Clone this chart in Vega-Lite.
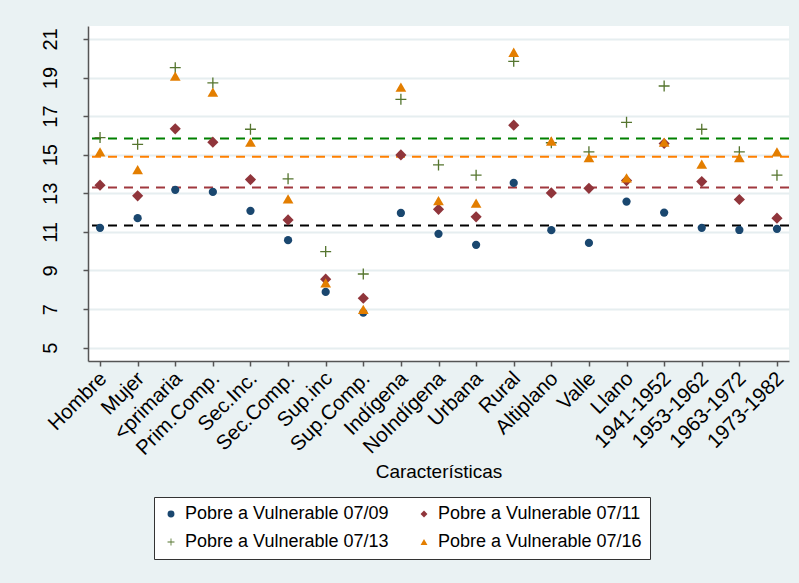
{
  "$schema": "https://vega.github.io/schema/vega-lite/v6.json",
  "width": 701,
  "height": 335,
  "autosize": {"type": "none"},
  "padding": {"left": 88, "top": 26, "right": 10, "bottom": 222},
  "background": "#eaf2f3",
  "config": {
    "view": {"fill": "white", "stroke": null},
    "font": "Liberation Sans",
    "axis": {
      "domainColor": "#555555",
      "domainWidth": 1.5,
      "tickColor": "#555555",
      "tickWidth": 1.5,
      "tickSize": 5,
      "labelColor": "#000000",
      "titleColor": "#000000",
      "labelFontSize": 19,
      "titleFontSize": 19,
      "titleFontWeight": "normal"
    }
  },
  "datasets": {
    "medias": [
      {"serie": "07/09", "valor": 11.33},
      {"serie": "07/11", "valor": 13.30},
      {"serie": "07/13", "valor": 15.84},
      {"serie": "07/16", "valor": 14.89}
    ],
    "puntos": [
      {"cat": "Hombre", "serie": "Pobre a Vulnerable 07/09", "valor": 11.21},
      {"cat": "Mujer", "serie": "Pobre a Vulnerable 07/09", "valor": 11.71},
      {"cat": "<primaria", "serie": "Pobre a Vulnerable 07/09", "valor": 13.18},
      {"cat": "Prim.Comp.", "serie": "Pobre a Vulnerable 07/09", "valor": 13.07},
      {"cat": "Sec.Inc.", "serie": "Pobre a Vulnerable 07/09", "valor": 12.09},
      {"cat": "Sec.Comp.", "serie": "Pobre a Vulnerable 07/09", "valor": 10.57},
      {"cat": "Sup.inc", "serie": "Pobre a Vulnerable 07/09", "valor": 7.89},
      {"cat": "Sup.Comp.", "serie": "Pobre a Vulnerable 07/09", "valor": 6.82},
      {"cat": "Indígena", "serie": "Pobre a Vulnerable 07/09", "valor": 11.98},
      {"cat": "NoIndígena", "serie": "Pobre a Vulnerable 07/09", "valor": 10.90},
      {"cat": "Urbana", "serie": "Pobre a Vulnerable 07/09", "valor": 10.33},
      {"cat": "Rural", "serie": "Pobre a Vulnerable 07/09", "valor": 13.54},
      {"cat": "Altiplano", "serie": "Pobre a Vulnerable 07/09", "valor": 11.09},
      {"cat": "Valle", "serie": "Pobre a Vulnerable 07/09", "valor": 10.43},
      {"cat": "Llano", "serie": "Pobre a Vulnerable 07/09", "valor": 12.57},
      {"cat": "1941-1952", "serie": "Pobre a Vulnerable 07/09", "valor": 12.00},
      {"cat": "1953-1962", "serie": "Pobre a Vulnerable 07/09", "valor": 11.21},
      {"cat": "1963-1972", "serie": "Pobre a Vulnerable 07/09", "valor": 11.10},
      {"cat": "1973-1982", "serie": "Pobre a Vulnerable 07/09", "valor": 11.16},

      {"cat": "Hombre", "serie": "Pobre a Vulnerable 07/11", "valor": 13.42},
      {"cat": "Mujer", "serie": "Pobre a Vulnerable 07/11", "valor": 12.87},
      {"cat": "<primaria", "serie": "Pobre a Vulnerable 07/11", "valor": 16.34},
      {"cat": "Prim.Comp.", "serie": "Pobre a Vulnerable 07/11", "valor": 15.65},
      {"cat": "Sec.Inc.", "serie": "Pobre a Vulnerable 07/11", "valor": 13.71},
      {"cat": "Sec.Comp.", "serie": "Pobre a Vulnerable 07/11", "valor": 11.62},
      {"cat": "Sup.inc", "serie": "Pobre a Vulnerable 07/11", "valor": 8.55},
      {"cat": "Sup.Comp.", "serie": "Pobre a Vulnerable 07/11", "valor": 7.56},
      {"cat": "Indígena", "serie": "Pobre a Vulnerable 07/11", "valor": 14.99},
      {"cat": "NoIndígena", "serie": "Pobre a Vulnerable 07/11", "valor": 12.17},
      {"cat": "Urbana", "serie": "Pobre a Vulnerable 07/11", "valor": 11.78},
      {"cat": "Rural", "serie": "Pobre a Vulnerable 07/11", "valor": 16.53},
      {"cat": "Altiplano", "serie": "Pobre a Vulnerable 07/11", "valor": 13.02},
      {"cat": "Valle", "serie": "Pobre a Vulnerable 07/11", "valor": 13.26},
      {"cat": "Llano", "serie": "Pobre a Vulnerable 07/11", "valor": 13.66},
      {"cat": "1941-1952", "serie": "Pobre a Vulnerable 07/11", "valor": 15.58},
      {"cat": "1953-1962", "serie": "Pobre a Vulnerable 07/11", "valor": 13.61},
      {"cat": "1963-1972", "serie": "Pobre a Vulnerable 07/11", "valor": 12.68},
      {"cat": "1973-1982", "serie": "Pobre a Vulnerable 07/11", "valor": 11.71},

      {"cat": "Hombre", "serie": "Pobre a Vulnerable 07/13", "valor": 15.89},
      {"cat": "Mujer", "serie": "Pobre a Vulnerable 07/13", "valor": 15.54},
      {"cat": "<primaria", "serie": "Pobre a Vulnerable 07/13", "valor": 19.51},
      {"cat": "Prim.Comp.", "serie": "Pobre a Vulnerable 07/13", "valor": 18.72},
      {"cat": "Sec.Inc.", "serie": "Pobre a Vulnerable 07/13", "valor": 16.32},
      {"cat": "Sec.Comp.", "serie": "Pobre a Vulnerable 07/13", "valor": 13.75},
      {"cat": "Sup.inc", "serie": "Pobre a Vulnerable 07/13", "valor": 9.98},
      {"cat": "Sup.Comp.", "serie": "Pobre a Vulnerable 07/13", "valor": 8.82},
      {"cat": "Indígena", "serie": "Pobre a Vulnerable 07/13", "valor": 17.87},
      {"cat": "NoIndígena", "serie": "Pobre a Vulnerable 07/13", "valor": 14.47},
      {"cat": "Urbana", "serie": "Pobre a Vulnerable 07/13", "valor": 13.94},
      {"cat": "Rural", "serie": "Pobre a Vulnerable 07/13", "valor": 19.84},
      {"cat": "Altiplano", "serie": "Pobre a Vulnerable 07/13", "valor": 15.62},
      {"cat": "Valle", "serie": "Pobre a Vulnerable 07/13", "valor": 15.15},
      {"cat": "Llano", "serie": "Pobre a Vulnerable 07/13", "valor": 16.68},
      {"cat": "1941-1952", "serie": "Pobre a Vulnerable 07/13", "valor": 18.56},
      {"cat": "1953-1962", "serie": "Pobre a Vulnerable 07/13", "valor": 16.32},
      {"cat": "1963-1972", "serie": "Pobre a Vulnerable 07/13", "valor": 15.15},
      {"cat": "1973-1982", "serie": "Pobre a Vulnerable 07/13", "valor": 13.94},

      {"cat": "Hombre", "serie": "Pobre a Vulnerable 07/16", "valor": 15.15},
      {"cat": "Mujer", "serie": "Pobre a Vulnerable 07/16", "valor": 14.23},
      {"cat": "<primaria", "serie": "Pobre a Vulnerable 07/16", "valor": 19.07},
      {"cat": "Prim.Comp.", "serie": "Pobre a Vulnerable 07/16", "valor": 18.24},
      {"cat": "Sec.Inc.", "serie": "Pobre a Vulnerable 07/16", "valor": 15.65},
      {"cat": "Sec.Comp.", "serie": "Pobre a Vulnerable 07/16", "valor": 12.71},
      {"cat": "Sup.inc", "serie": "Pobre a Vulnerable 07/16", "valor": 8.36},
      {"cat": "Sup.Comp.", "serie": "Pobre a Vulnerable 07/16", "valor": 6.99},
      {"cat": "Indígena", "serie": "Pobre a Vulnerable 07/16", "valor": 18.50},
      {"cat": "NoIndígena", "serie": "Pobre a Vulnerable 07/16", "valor": 12.62},
      {"cat": "Urbana", "serie": "Pobre a Vulnerable 07/16", "valor": 12.49},
      {"cat": "Rural", "serie": "Pobre a Vulnerable 07/16", "valor": 20.31},
      {"cat": "Altiplano", "serie": "Pobre a Vulnerable 07/16", "valor": 15.71},
      {"cat": "Valle", "serie": "Pobre a Vulnerable 07/16", "valor": 14.85},
      {"cat": "Llano", "serie": "Pobre a Vulnerable 07/16", "valor": 13.80},
      {"cat": "1941-1952", "serie": "Pobre a Vulnerable 07/16", "valor": 15.65},
      {"cat": "1953-1962", "serie": "Pobre a Vulnerable 07/16", "valor": 14.51},
      {"cat": "1963-1972", "serie": "Pobre a Vulnerable 07/16", "valor": 14.85},
      {"cat": "1973-1982", "serie": "Pobre a Vulnerable 07/16", "valor": 15.15}
    ]
  },
  "encoding": {
    "y": {
      "field": "valor", "type": "quantitative",
      "scale": {"domain": [4.31, 21.67], "nice": false, "zero": false},
      "axis": {"title": null, "values": [5, 7, 9, 11, 13, 15, 17, 19, 21],
               "grid": true, "gridColor": "#e6eef0", "gridWidth": 2, "labelFontSize": 20,
               "labelAngle": 270, "labelAlign": "center", "labelBaseline": "bottom", "labelPadding": 23}
    }
  },
  "layer": [
    {
      "data": {"name": "medias"},
      "transform": [{"filter": "datum.serie == '07/09'"}],
      "mark": {"type": "rule", "strokeDash": [9, 7], "strokeWidth": 2, "color": "#000000"},
      "encoding": {}
    },
    {
      "data": {"name": "medias"},
      "transform": [{"filter": "datum.serie == '07/11'"}],
      "mark": {"type": "rule", "strokeDash": [9, 7], "strokeWidth": 2, "color": "#a0383e"},
      "encoding": {}
    },
    {
      "data": {"name": "medias"},
      "transform": [{"filter": "datum.serie == '07/13'"}],
      "mark": {"type": "rule", "strokeDash": [9, 7], "strokeWidth": 2, "color": "#008000"},
      "encoding": {}
    },
    {
      "data": {"name": "medias"},
      "transform": [{"filter": "datum.serie == '07/16'"}],
      "mark": {"type": "rule", "strokeDash": [9, 7], "strokeWidth": 2, "color": "#ff8000"},
      "encoding": {}
    },
    {
      "data": {"name": "puntos"},
      "encoding": {
        "x": {
          "field": "cat", "type": "nominal",
          "sort": ["Hombre", "Mujer", "<primaria", "Prim.Comp.", "Sec.Inc.", "Sec.Comp.", "Sup.inc", "Sup.Comp.", "Indígena", "NoIndígena", "Urbana", "Rural", "Altiplano", "Valle", "Llano", "1941-1952", "1953-1962", "1963-1972", "1973-1982"],
          "scale": {"type": "point", "padding": 0.32},
          "axis": {"title": "Características", "labelAngle": -45, "labelFontSize": 20.5, "labelOffset": -4, "labelPadding": 2, "titlePadding": 3, "grid": false}
        },
        "color": {
          "field": "serie", "type": "nominal",
          "scale": {"domain": ["Pobre a Vulnerable 07/09", "Pobre a Vulnerable 07/11", "Pobre a Vulnerable 07/13", "Pobre a Vulnerable 07/16"],
                    "range": ["#1a476f", "#90353b", "#55752f", "#e37e00"]},
          "legend": {
            "title": null, "orient": "none", "legendX": 66, "legendY": 471,
            "direction": "horizontal", "columns": 2,
            "labelFontSize": 18, "labelColor": "#000000",
            "symbolSize": 48, "labelOffset": 5, "columnPadding": 26, "rowPadding": 10,
            "padding": 8, "strokeColor": "#333333", "fillColor": "#ffffff", "cornerRadius": 0,
            "labelLimit": 400
          }
        },
        "shape": {
          "field": "serie", "type": "nominal",
          "scale": {"domain": ["Pobre a Vulnerable 07/09", "Pobre a Vulnerable 07/11", "Pobre a Vulnerable 07/13", "Pobre a Vulnerable 07/16"],
                    "range": ["circle", "diamond", "M-1,-0.12H-0.12V-1H0.12V-0.12H1V0.12H0.12V1H-0.12V0.12H-1Z", "triangle-up"]},
          "legend": {
            "title": null, "orient": "none", "legendX": 66, "legendY": 471,
            "direction": "horizontal", "columns": 2,
            "labelFontSize": 18, "labelColor": "#000000",
            "symbolSize": 48, "labelOffset": 5, "columnPadding": 26, "rowPadding": 10,
            "padding": 8, "strokeColor": "#333333", "fillColor": "#ffffff", "cornerRadius": 0,
            "labelLimit": 400
          }
        }
      },
      "layer": [
        {
          "transform": [{"filter": "datum.serie == 'Pobre a Vulnerable 07/09'"}],
          "mark": {"type": "point", "filled": true, "opacity": 1, "size": 68}
        },
        {
          "transform": [{"filter": "datum.serie == 'Pobre a Vulnerable 07/11'"}],
          "mark": {"type": "point", "filled": true, "opacity": 1, "size": 125}
        },
        {
          "transform": [{"filter": "datum.serie == 'Pobre a Vulnerable 07/13'"}],
          "mark": {"type": "point", "filled": true, "opacity": 1, "size": 120}
        },
        {
          "transform": [{"filter": "datum.serie == 'Pobre a Vulnerable 07/16'"}],
          "mark": {"type": "point", "filled": true, "opacity": 1, "size": 115}
        }
      ]
    }
  ]
}
